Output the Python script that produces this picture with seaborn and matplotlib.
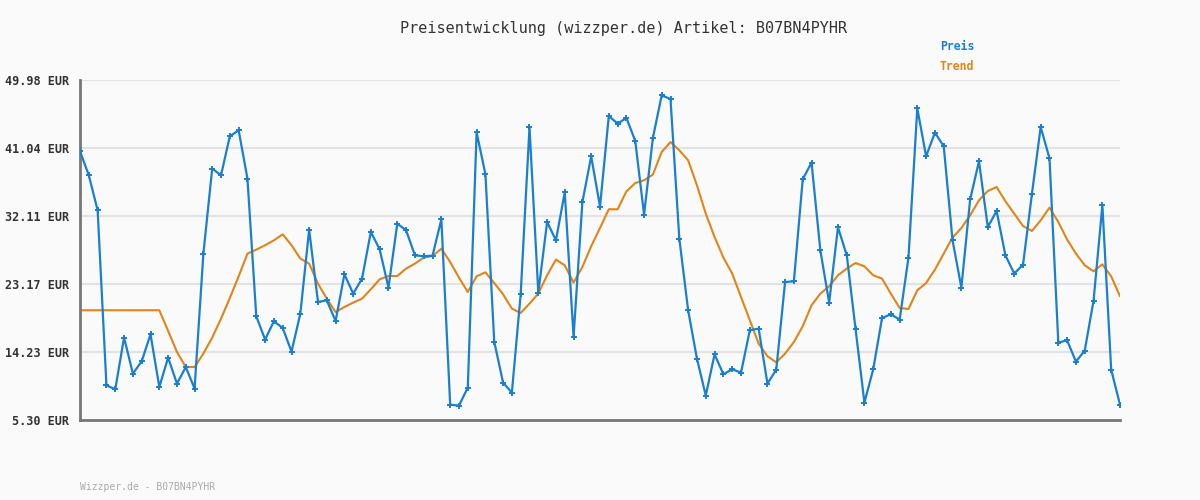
import numpy as np
import pandas as pd
import matplotlib
matplotlib.use("Agg")
import matplotlib.pyplot as plt
import seaborn as sns

title = "Preisentwicklung (wizzper.de) Artikel: B07BN4PYHR"
footer = "Wizzper.de - B07BN4PYHR"
series_names = ["Preis", "Trend"]
y_ticks = [5.30, 14.23, 23.17, 32.11, 41.04, 49.98]
y_tick_labels = ["5.30 EUR", "14.23 EUR", "23.17 EUR", "32.11 EUR", "41.04 EUR", "49.98 EUR"]

preis = [
    40.61, 37.46, 32.86, 9.86, 9.33, 16.13, 11.40, 13.01, 16.56, 9.64,
    13.50, 10.08, 12.26, 9.43, 27.17, 38.34, 37.46, 42.58, 43.37, 37.02,
    18.93, 15.87, 18.27, 17.39, 14.29, 19.28, 30.32, 20.81, 21.03, 18.31,
    24.45, 21.91, 23.88, 30.01, 27.73, 22.70, 31.11, 30.23, 26.94, 26.81,
    26.90, 31.67, 7.32, 7.19, 9.56, 43.11, 37.59, 15.60, 10.21, 8.90,
    21.82, 43.76, 22.04, 31.32, 28.91, 35.22, 16.21, 33.91, 39.95, 33.34,
    45.25, 44.25, 44.99, 41.96, 32.29, 42.36, 47.97, 47.48, 29.14, 19.72,
    13.37, 8.51, 13.93, 11.31, 11.96, 11.53, 17.09, 17.31, 10.08, 11.92,
    23.43, 23.53, 36.93, 39.13, 27.60, 20.73, 30.62, 26.94, 17.22, 7.59,
    11.96, 18.70, 19.19, 18.49, 26.64, 46.26, 39.95, 43.07, 41.27, 28.91,
    22.70, 34.30, 39.30, 30.66, 32.76, 26.94, 24.54, 25.72, 34.96, 43.80,
    39.69, 15.47, 15.77, 12.97, 14.42, 20.99, 33.51, 11.92, 7.32,
]

trend = [
    19.72, 19.72, 19.72, 19.72, 19.72, 19.72, 19.72, 19.72, 19.72, 19.72,
    17.00, 14.24, 12.26, 12.26, 14.03, 16.13, 18.62, 21.33, 24.18, 27.17,
    27.69, 28.26, 28.91, 29.70, 28.26, 26.51, 25.85, 23.22, 21.25, 19.49,
    20.15, 20.73, 21.25, 22.48, 23.79, 24.22, 24.22, 25.20, 25.85, 26.64,
    26.85, 27.82, 26.06, 24.01, 22.12, 24.18, 24.71, 23.30, 21.82, 19.94,
    19.36, 20.60, 21.91, 24.32, 26.38, 25.63, 23.36, 25.41, 28.13, 30.53,
    32.99, 32.99, 35.35, 36.44, 36.80, 37.55, 40.52, 41.83, 40.74, 39.43,
    36.14, 32.42, 29.35, 26.64, 24.54, 21.46, 18.40, 15.34, 13.67, 12.88,
    14.03, 15.55, 17.61, 20.37, 21.91, 22.87, 24.32, 25.20, 25.93, 25.50,
    24.32, 23.88, 21.91, 20.02, 19.89, 22.34, 23.30, 25.06, 27.17, 29.27,
    30.53, 32.20, 34.17, 35.39, 35.92, 34.04, 32.42, 30.79, 30.14, 31.54,
    33.21, 31.32, 29.01, 27.17, 25.63, 24.84, 25.76, 24.18, 21.56,
]

blue = "#1a7fcf"
orange = "#e0851a"
bg = "#fafafa"

sns.set_theme(style="white")
plt.rcParams["font.family"] = ["DejaVu Sans Mono", "DejaVu Sans"]

idx = np.arange(len(preis))
df = pd.DataFrame({"idx": idx, "Preis": preis, "Trend": trend})

fig = plt.figure(figsize=(12, 5), dpi=100, facecolor=bg)
ax = fig.add_axes([80 / 1200, 80 / 500, 1040 / 1200, 340 / 500])
ax.set_facecolor(bg)

ax.set_ylim(y_ticks[0], y_ticks[-1])
ax.set_xlim(0, len(preis) - 1)
ax.set_yticks(y_ticks)
ax.set_yticklabels(y_tick_labels)
ax.set_xticks([])
for t in y_ticks[1:]:
    ax.axhline(t, color="#e3e3e3", lw=1.6, zorder=0)

sns.lineplot(data=df, x="idx", y="Trend", ax=ax, color=orange, lw=1.5, zorder=2)
sns.lineplot(data=df, x="idx", y="Preis", ax=ax, color=blue, lw=1.6, marker="+",
             markersize=4, markeredgewidth=1.4, markeredgecolor=blue, zorder=3)

ax.set_xlabel("")
ax.set_ylabel("")
for s in ["top", "right"]:
    ax.spines[s].set_visible(False)
for s in ["left", "bottom"]:
    ax.spines[s].set_color("#777777")
    ax.spines[s].set_linewidth(2)
ax.tick_params(axis="y", length=0, pad=8, labelsize=8.5, labelcolor="#333333")
for lab in ax.get_yticklabels():
    lab.set_fontweight("bold")

fig.text(624 / 1200, 1 - 28 / 500, title, ha="center", va="center",
         fontsize=10.9, color="#333333")
fig.text(940 / 1200, 1 - 47 / 500, series_names[0], ha="left", va="center",
         fontsize=8.3, color=blue, fontweight="bold")
fig.text(940 / 1200, 1 - 67 / 500, series_names[1], ha="left", va="center",
         fontsize=8.3, color=orange, fontweight="bold")
fig.text(80 / 1200, 1 - 487 / 500, footer, ha="left", va="center",
         fontsize=7, color="#aaaaaa")

fig.savefig("out.png", dpi=100, facecolor=bg)
